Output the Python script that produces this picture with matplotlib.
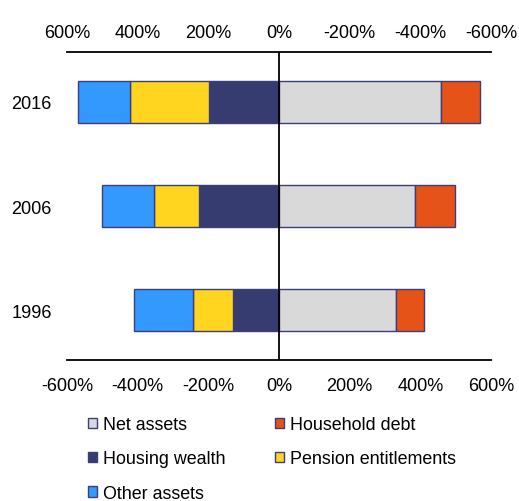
import matplotlib
matplotlib.use("Agg")
import matplotlib.pyplot as plt
from matplotlib.patches import Patch
import numpy as np

plt.rcParams['font.family'] = ['Liberation Sans', 'DejaVu Sans']

years = ["1996", "2006", "2016"]
housing_wealth = [131, 226, 198]
pension_entitlements = [113, 129, 225]
other_assets = [166, 147, 146]
net_assets = [331, 385, 458]
household_debt = [79, 113, 110]

ticks = [-600, -400, -200, 0, 200, 400, 600]

c_other = "#3399FF"
c_pension = "#FFD520"
c_housing = "#373C70"
c_net = "#D9D9D9"
c_debt = "#E55319"
edge = "#3A3F7A"

fig = plt.figure(figsize=(5.19, 5.02), dpi=100)
ax = fig.add_axes([67/519, 1-361/502, (491-67)/519, (361-53)/502])

y = np.arange(len(years))
h = 0.4
hw = -np.array(housing_wealth)
pe = -np.array(pension_entitlements)
oa = -np.array(other_assets)
na = np.array(net_assets)
hd = np.array(household_debt)

kw = dict(height=h, edgecolor=edge, linewidth=1.0)
ax.barh(y, hw, color=c_housing, **kw)
ax.barh(y, pe, left=hw, color=c_pension, **kw)
ax.barh(y, oa, left=hw + pe, color=c_other, **kw)
ax.barh(y, na, color=c_net, **kw)
ax.barh(y, hd, left=na, color=c_debt, **kw)

ax.axvline(0, color="black", linewidth=1.3, zorder=5)

fs = 13.1
ax.set_xlim(-600, 600)
ax.set_ylim(-0.48, 2.48)
ax.set_xticks(ticks)
ax.set_xticklabels([f"{t}%" for t in ticks])
ax.set_yticks(y)
ax.set_yticklabels(years)
ax.tick_params(axis="both", length=0, labelsize=fs)
ax.tick_params(axis="x", pad=12.5)
ax.tick_params(axis="y", pad=11)
for s in ["left", "right"]:
    ax.spines[s].set_visible(False)
for s in ["top", "bottom"]:
    ax.spines[s].set_linewidth(1.3)

ax2 = ax.twiny()
ax2.set_xlim(600, -600)
ax2.set_xticks(ticks)
ax2.set_xticklabels([f"{t}%" for t in ticks])
ax2.tick_params(axis="x", length=0, labelsize=fs, pad=8)
for s in ["left", "right", "bottom", "top"]:
    ax2.spines[s].set_visible(False)

def p(c):
    return Patch(facecolor=c, edgecolor=edge, linewidth=1.0)

handles = [p(c_net), p(c_housing), p(c_other), p(c_debt), p(c_pension)]
labels = ["Net assets", "Housing wealth", "Other assets", "Household debt", "Pension entitlements"]
fig.legend(handles, labels, ncol=2, loc="upper left", bbox_to_anchor=(88/519, 1-417/502),
           frameon=False, fontsize=12.9, handlelength=0.5, handleheight=0.5,
           handletextpad=0.33, columnspacing=2.75, labelspacing=0.97, borderpad=0,
           borderaxespad=0)

fig.savefig("out.png", dpi=100)
